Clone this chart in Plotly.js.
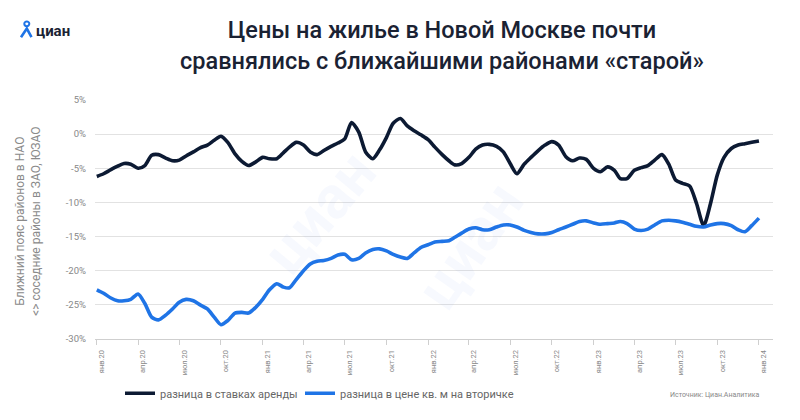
<!DOCTYPE html>
<html><head><meta charset="utf-8">
<script src="https://cdn.plot.ly/plotly-3.0.1.min.js"></script>
<style>html,body{margin:0;padding:0;background:#fff}#chart{width:800px;height:420px}</style>
</head><body><div id="chart"></div>
<script>
// semi-monthly observation dates
const dates = [
"2020-01-01","2020-01-16","2020-02-01","2020-02-16","2020-03-01","2020-03-16","2020-04-01","2020-04-16","2020-05-01","2020-05-16","2020-06-01","2020-06-16",
"2020-07-01","2020-07-16","2020-08-01","2020-08-16","2020-09-01","2020-09-16","2020-10-01","2020-10-16","2020-11-01","2020-11-16","2020-12-01","2020-12-16",
"2021-01-01","2021-01-16","2021-02-01","2021-02-16","2021-03-01","2021-03-16","2021-04-01","2021-04-16","2021-05-01","2021-05-16","2021-06-01","2021-06-16",
"2021-07-01","2021-07-16","2021-08-01","2021-08-16","2021-09-01","2021-09-16","2021-10-01","2021-10-16","2021-11-01","2021-11-16","2021-12-01","2021-12-16",
"2022-01-01","2022-01-16","2022-02-01","2022-02-16","2022-03-01","2022-03-16","2022-04-01","2022-04-16","2022-05-01","2022-05-16","2022-06-01","2022-06-16",
"2022-07-01","2022-07-16","2022-08-01","2022-08-16","2022-09-01","2022-09-16","2022-10-01","2022-10-16","2022-11-01","2022-11-16","2022-12-01","2022-12-16",
"2023-01-01","2023-01-16","2023-02-01","2023-02-16","2023-03-01","2023-03-16","2023-04-01","2023-04-16","2023-05-01","2023-05-16","2023-06-01","2023-06-16",
"2023-07-01","2023-07-16","2023-08-01","2023-08-16","2023-09-01","2023-09-16","2023-10-01","2023-10-16","2023-11-01","2023-11-16","2023-12-01","2023-12-16",
"2024-01-01"];

// difference in rent rates, %
const rentDiff = [
-6.2,-5.8,-5.2,-4.7,-4.3,-4.4,-5.0,-4.6,-3.1,-3.0,-3.5,-3.9,-3.8,-3.2,-2.6,-2.0,-1.6,-0.9,-0.3,-1.2,
-2.9,-4.0,-4.6,-4.1,-3.4,-3.6,-3.6,-2.7,-1.9,-1.2,-1.6,-2.6,-3.0,-2.4,-1.8,-1.3,-0.7,1.7,0.3,-2.6,
-3.6,-2.3,-0.5,1.6,2.3,1.2,0.5,-0.1,-0.8,-1.9,-3.0,-3.9,-4.5,-4.3,-3.4,-2.2,-1.6,-1.5,-1.8,-2.6,
-4.3,-5.8,-4.4,-3.4,-2.4,-1.6,-1.1,-1.6,-3.3,-3.9,-3.5,-3.7,-5.0,-5.5,-4.8,-5.3,-6.5,-6.5,-5.3,-4.9,
-4.6,-3.8,-3.0,-4.4,-6.7,-7.2,-7.6,-10.1,-13.4,-10.2,-6.0,-3.4,-2.1,-1.6,-1.4,-1.2,-1.0];

// difference in price per sq. m on the secondary market, %
const priceDiff = [
-22.8,-23.3,-24.0,-24.4,-24.4,-24.2,-23.4,-24.8,-26.8,-27.2,
-26.5,-25.6,-24.6,-24.2,-24.4,-25.0,-25.6,-26.8,-27.9,-27.3,
-26.2,-26.1,-26.2,-25.4,-24.2,-22.8,-21.9,-22.4,-22.5,-21.3,
-20.0,-19.0,-18.6,-18.5,-18.2,-17.7,-17.6,-18.4,-18.2,-17.4,
-16.9,-16.8,-17.1,-17.6,-18.0,-18.2,-17.4,-16.6,-16.2,-15.8,
-15.7,-15.6,-15.1,-14.5,-13.9,-13.7,-14.0,-14.0,-13.6,-13.3,
-13.3,-13.6,-14.1,-14.4,-14.6,-14.6,-14.4,-14.0,-13.6,-13.2,
-12.8,-12.7,-13.0,-13.2,-13.1,-13.0,-12.8,-13.1,-13.9,-14.1,
-13.9,-13.3,-12.7,-12.6,-12.7,-12.9,-13.2,-13.5,-13.6,-13.3,
-13.1,-13.1,-13.4,-14.0,-14.3,-13.4,-12.3];

const tickDates = ["2020-01-01","2020-04-01","2020-07-01","2020-10-01","2021-01-01","2021-04-01","2021-07-01","2021-10-01",
"2022-01-01","2022-04-01","2022-07-01","2022-10-01","2023-01-01","2023-04-01","2023-07-01","2023-10-01","2024-01-01"];
const tickLabels = ["янв.20","апр.20","июл.20","окт.20","янв.21","апр.21","июл.21","окт.21",
"янв.22","апр.22","июл.22","окт.22","янв.23","апр.23","июл.23","окт.23","янв.24"];
const yTicks = [5,0,-5,-10,-15,-20,-25,-30];
const yTickLabels = ["5%","0%","-5%","-10%","-15%","-20%","-25%","-30%"];
const seriesNames = ["разница в ставках аренды","разница в цене кв. м на вторичке"];

// plot-area geometry (pixels) for placing decorations
const L = 95, R = 27, T = 100, B = 69, W = 800 - L - R, H = 420 - T - B;
const px = v => (v - L) / W;
const py = v => (420 - B - v) / H;

const traces = [
  {x: dates, y: rentDiff, name: seriesNames[0], type: "scatter", mode: "lines", legend: "legend",
   line: {color: "#0c1a33", width: 3.6, shape: "spline", smoothing: 0.7}},
  {x: dates, y: priceDiff, name: seriesNames[1], type: "scatter", mode: "lines", legend: "legend2",
   line: {color: "#1f74e6", width: 3.6, shape: "spline", smoothing: 0.7}}
];

const legendStyle = {orientation: "h", xanchor: "left", y: py(408), yanchor: "middle",
  font: {size: 11, color: "#666"}, itemwidth: 30, bgcolor: "rgba(0,0,0,0)"};

const wm = "rgba(40,110,230,0.04)";
const layout = {
  width: 800, height: 420,
  margin: {l: L, r: R, t: T, b: B},
  paper_bgcolor: "#fff", plot_bgcolor: "rgba(0,0,0,0)",
  font: {family: "Roboto, 'Open Sans', sans-serif", color: "#777"},
  showlegend: true,
  legend: Object.assign({x: px(120)}, legendStyle),
  legend2: Object.assign({x: px(300)}, legendStyle),
  xaxis: {type: "date", range: ["2019-12-28", "2024-02-01"], tickmode: "array",
    tickvals: tickDates, ticktext: tickLabels, tickangle: -90, ticks: "outside",
    ticklen: 5, tickcolor: "#cfcfcf", tickwidth: 1, ticklabelshift: 5, ticklabelstandoff: 2,
    tickfont: {size: 7.5, color: "#888"},
    showgrid: false, showline: true, linecolor: "#cfcfcf", linewidth: 1, zeroline: false, fixedrange: true},
  yaxis: {range: [-30, 5], tickmode: "array", tickvals: yTicks, ticktext: yTickLabels,
    tickfont: {size: 9.5, color: "#888"}, ticks: "", ticklabelstandoff: 8,
    showgrid: true, gridcolor: "#e2e2e2", gridwidth: 1, zeroline: false, showline: false, fixedrange: true},
  title: {text: "Цены на жилье в Новой Москве почти<br>сравнялись с ближайшими районами «старой»",
    xref: "container", yref: "container", x: 442/800, xanchor: "center", y: 1 - 38/420, yanchor: "middle",
    font: {family: "Roboto, sans-serif", size: 23.5, color: "#1a2233", weight: 500}},
  annotations: [
    {xref: "paper", yref: "paper", x: px(28), y: py(228), text: "Ближний пояс районов в НАО<br>&lt;&gt; соседние районы в ЗАО, ЮЗАО",
     textangle: -90, showarrow: false, font: {size: 12, color: "#8a8a8a"}, xanchor: "center", yanchor: "middle"},
    {xref: "paper", yref: "paper", x: px(34), y: py(28), text: "<b>циан</b>", showarrow: false,
     xanchor: "left", yanchor: "middle", font: {size: 15, color: "#1a2233", family: "Roboto, sans-serif"}},
    {xref: "paper", yref: "paper", x: px(762), y: py(410), text: "Источник: Циан.Аналитика", showarrow: false,
     xanchor: "right", yanchor: "middle", font: {size: 7, color: "#888"}},
    {xref: "paper", yref: "paper", x: px(245), y: py(300), text: "<b>циан</b>", showarrow: false, textangle: -50,
     font: {size: 60, color: wm}},
    {xref: "paper", yref: "paper", x: px(470), y: py(170), text: "<b>циан</b>", showarrow: false, textangle: -55,
     font: {size: 60, color: wm}}
  ],
  shapes: [
    {type: "circle", xref: "paper", yref: "paper", x0: px(24.3), x1: px(29.3), y0: py(22.5), y1: py(17.5),
     line: {color: "#1f74e6", width: 2}},
    {type: "path", xref: "paper", yref: "paper",
     path: `M${px(21)},${py(34)} L${px(26.8)},${py(25)} L${px(31.5)},${py(34)}`,
     line: {color: "#1f74e6", width: 2.6}}
  ]
};

Plotly.newPlot("chart", traces, layout, {staticPlot: true, displayModeBar: false});
</script>
</body></html>
